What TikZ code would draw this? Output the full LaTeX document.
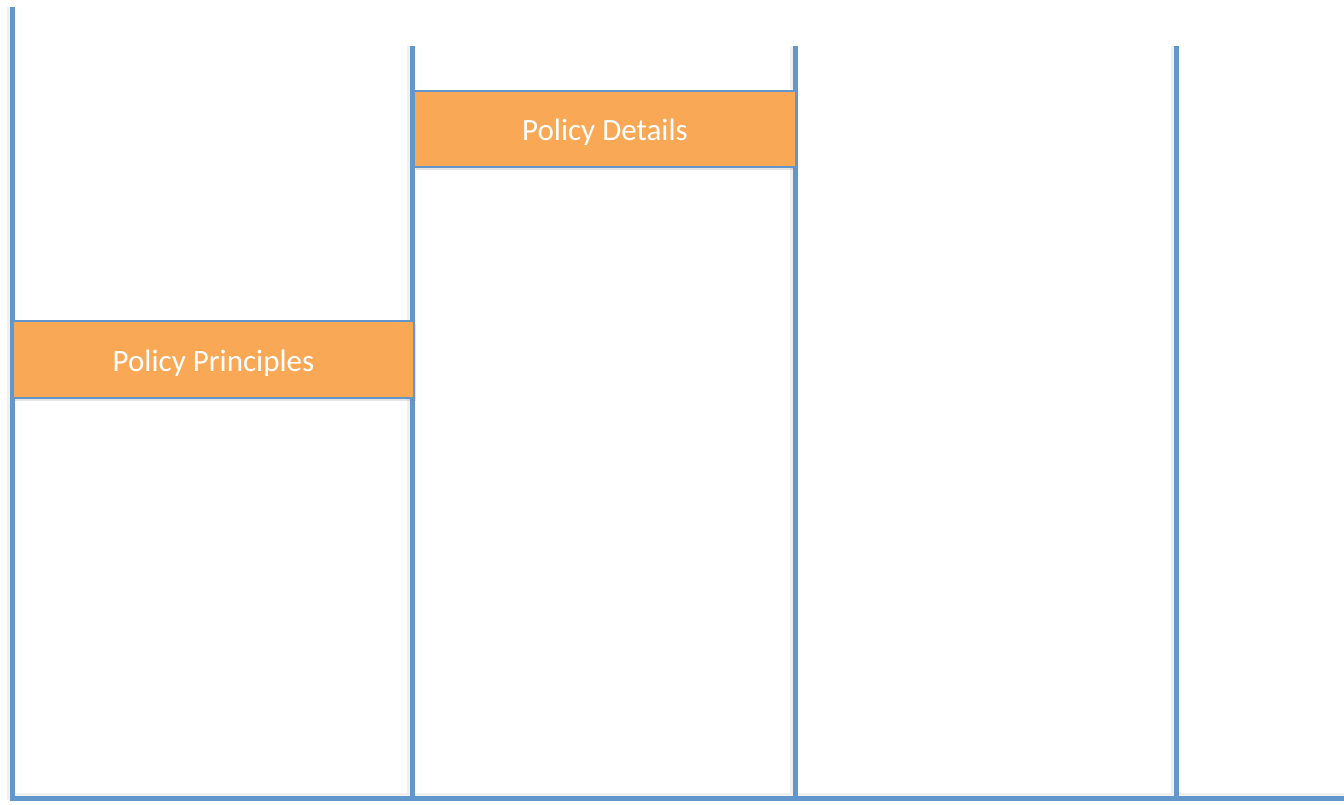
\documentclass[tikz,border=0pt]{standalone}
\usepackage{fontspec}
\setmainfont{Carlito}
\usetikzlibrary{shadows}
\definecolor{lineblue}{RGB}{98,151,204}
\definecolor{boxorange}{RGB}{249,168,86}
\newcommand{\lowtext}[1]{\raisebox{-11.5pt}[0pt][0pt]{#1}}
\begin{document}
\begin{tikzpicture}[x=1pt,y=-1pt,
  lane/.style={draw=lineblue,line width=5pt},
  shadowline/.style={draw=black!6,line width=4pt},
  policybox/.style={draw=lineblue,line width=2pt,fill=boxorange,text=white,
    font=\fontsize{31}{36}\selectfont,inner sep=0pt,anchor=north west,
    drop shadow={opacity=0.2,shadow xshift=2pt,shadow yshift=-3pt}}]
\useasboundingbox (0,0) rectangle (1344,804);
\fill[white] (0,0) rectangle (1344,804);
% coordinates
\coordinate (l1t) at (12,7);   \coordinate (l1b) at (12,800);
\coordinate (l2t) at (412,46); \coordinate (l2b) at (412,798);
\coordinate (l3t) at (795,46); \coordinate (l3b) at (795,798);
\coordinate (l4t) at (1176,46);\coordinate (l4b) at (1176,798);
\coordinate (hl) at (10,798);  \coordinate (hr) at (1344,798);
% shadows
\draw[shadowline] ([xshift=3pt,yshift=3pt]hl) -- ([yshift=3pt]hr);
\foreach \t/\b in {l1t/l1b,l2t/l2b,l3t/l3b,l4t/l4b}
  \draw[shadowline] ([xshift=-3pt]\t) -- ([xshift=-3pt]\b);
% lanes
\draw[lane] (l1t) -- (l1b);
\draw[lane] (l2t) -- (l2b);
\draw[lane] (l3t) -- (l3b);
\draw[lane] (l4t) -- (l4b);
\draw[lane] (hl) -- (hr);
% boxes
\node[policybox,minimum width=382pt,minimum height=76pt] (details) at (413,90) {\lowtext{Policy Details}};
\node[policybox,minimum width=401pt,minimum height=77pt] (principles) at (12,320) {\lowtext{Policy Principles}};
\end{tikzpicture}
\end{document}
